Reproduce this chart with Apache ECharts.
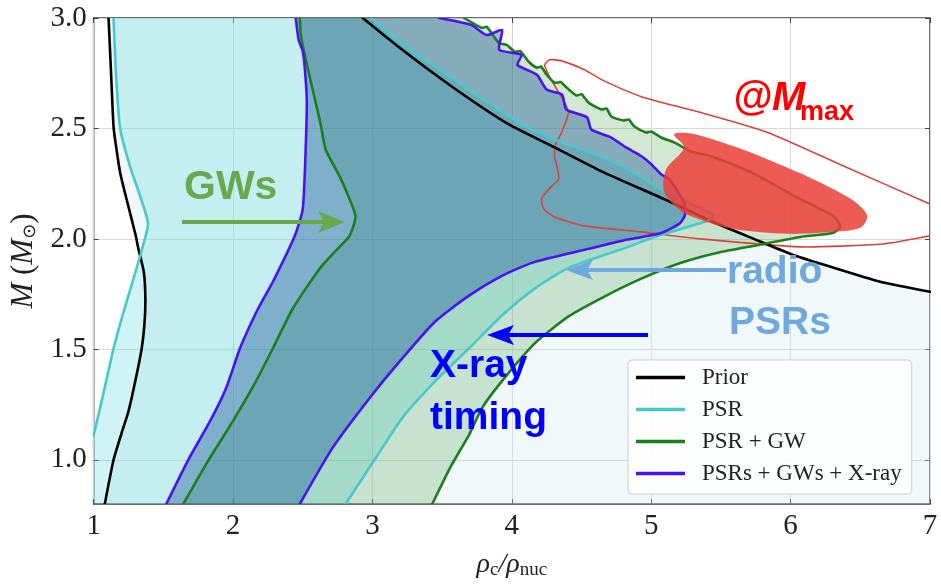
<!DOCTYPE html>
<html>
<head>
<meta charset="utf-8">
<script src="https://cdn.jsdelivr.net/npm/echarts@6/dist/echarts.min.js"></script>
<style>
html, body { margin: 0; padding: 0; background: #fff; }
#chart { width: 941px; height: 585px; }
</style>
</head>
<body>
<div id="chart"></div>
<script>
// contour boundaries, in (rho_c/rho_nuc, M) units
const xTicks = [1, 2, 3, 4, 5, 6, 7]
const yTicks = [1.0, 1.5, 2.0, 2.5, 3.0]

// Prior: left edge and the upper-right edge
const priorLeft = [[1.08, 0.8], [1.143, 1.0], [1.2, 1.12], [1.25, 1.22], [1.3, 1.36], [1.345, 1.505], [1.365, 1.62], [1.371, 1.73], [1.36, 1.85], [1.321, 1.955], [1.3, 2.02], [1.236, 2.18], [1.19, 2.3], [1.164, 2.405], [1.143, 2.505], [1.125, 2.75], [1.107, 3.0]]
const priorTop = [[2.93, 3.0], [3.214, 2.856], [3.571, 2.689], [3.979, 2.518], [4.307, 2.414], [4.643, 2.306], [5.093, 2.18], [5.429, 2.081], [5.736, 2.0], [6.0, 1.932], [6.264, 1.878], [6.643, 1.806], [7.0, 1.761]]

// PSR
const psrLeft = [[1.0, 1.11], [1.07, 1.3], [1.143, 1.505], [1.21, 1.66], [1.286, 1.82], [1.35, 1.96], [1.39, 2.07], [1.33, 2.2], [1.26, 2.33], [1.19, 2.5], [1.16, 2.75], [1.143, 3.0]]
const psrUpper = [[2.986, 3.0], [3.214, 2.883], [3.607, 2.712], [4.071, 2.518], [4.357, 2.437], [4.621, 2.378], [4.857, 2.306], [5.071, 2.225], [5.286, 2.158], [5.393, 2.126], [5.45, 2.108]]
const psrLower = [[5.42, 2.086], [5.357, 2.072], [5.021, 2.009], [4.836, 1.964], [4.407, 1.869], [4.164, 1.775], [3.929, 1.653], [3.693, 1.505], [3.45, 1.356], [3.214, 1.19], [3.071, 1.054], [2.807, 0.8]]

// PSR + GW
const gwLeft = [[1.643, 0.8], [1.821, 0.995], [2.0, 1.176], [2.157, 1.347], [2.286, 1.505], [2.429, 1.685], [2.621, 1.865], [2.75, 1.955], [2.836, 2.014], [2.879, 2.1], [2.836, 2.18], [2.764, 2.284], [2.664, 2.405], [2.629, 2.518], [2.571, 2.676], [2.514, 2.833], [2.486, 2.923], [2.479, 3.0]]
const gwUpper = [[3.657, 3.0], [3.786, 2.955], [3.82, 2.96], [3.907, 2.887], [3.964, 2.878], [4.021, 2.847], [4.06, 2.85], [4.121, 2.802], [4.179, 2.775], [4.21, 2.78], [4.25, 2.743], [4.307, 2.707], [4.35, 2.71], [4.393, 2.685], [4.464, 2.649], [4.5, 2.655], [4.55, 2.617], [4.643, 2.586], [4.68, 2.59], [4.714, 2.554], [4.8, 2.536], [4.84, 2.54], [4.879, 2.509], [4.964, 2.482], [5.0, 2.486], [5.071, 2.459], [5.164, 2.437], [5.286, 2.396], [5.429, 2.374], [5.714, 2.302], [6.071, 2.18], [6.307, 2.104], [6.357, 2.054]]
const gwLower = [[6.3, 2.027], [6.071, 2.009], [5.807, 1.977], [5.5, 1.941], [5.214, 1.892], [4.929, 1.82], [4.664, 1.739], [4.407, 1.649], [4.164, 1.527], [3.929, 1.356], [3.786, 1.234], [3.693, 1.113], [3.557, 0.964], [3.429, 0.8]]

// PSRs + GWs + X-ray
const xrLeft = [[1.521, 0.8], [1.679, 1.0], [1.836, 1.176], [1.95, 1.324], [2.05, 1.505], [2.18, 1.685], [2.286, 1.806], [2.443, 2.014], [2.5, 2.135], [2.521, 2.405], [2.529, 2.631], [2.514, 2.779], [2.5, 2.85], [2.471, 2.9], [2.45, 3.0]]
const xrUpper = [[3.48, 3.0], [3.71, 2.968], [3.82, 2.923], [3.93, 2.946], [3.91, 2.856], [4.07, 2.833], [4.04, 2.788], [4.18, 2.743], [4.25, 2.676], [4.36, 2.653], [4.39, 2.586], [4.54, 2.55], [4.57, 2.495], [4.71, 2.46], [4.82, 2.414], [4.93, 2.374], [5.0, 2.338], [5.07, 2.293], [5.13, 2.27], [5.18, 2.225], [5.24, 2.158], [5.24, 2.104], [5.2, 2.068]]
const xrLower = [[5.071, 2.027], [4.786, 1.991], [4.55, 1.955], [4.164, 1.896], [3.929, 1.833], [3.693, 1.743], [3.45, 1.626], [3.214, 1.459], [2.979, 1.279], [2.714, 1.054], [2.479, 0.8]]

// M_max: outer contour (runs off the right edge) and filled core
const mmaxOuter = [[7.0, 2.158], [6.4, 2.324], [5.836, 2.482], [5.357, 2.572], [4.929, 2.644], [4.643, 2.721], [4.521, 2.766], [4.357, 2.806], [4.271, 2.811], [4.236, 2.788], [4.271, 2.734], [4.379, 2.617], [4.407, 2.572], [4.357, 2.482], [4.314, 2.428], [4.307, 2.374], [4.329, 2.315], [4.336, 2.27], [4.264, 2.225], [4.214, 2.18], [4.229, 2.135], [4.307, 2.099], [4.521, 2.059], [4.929, 2.032], [5.357, 2.0], [6.071, 1.964], [6.664, 1.977], [7.0, 2.014]]
const mmaxCore = [[5.164, 2.473], [5.286, 2.477], [5.593, 2.419], [5.836, 2.36], [6.071, 2.297], [6.307, 2.225], [6.464, 2.167], [6.55, 2.104], [6.5, 2.05], [6.307, 2.032], [5.979, 2.023], [5.593, 2.045], [5.357, 2.086], [5.214, 2.126], [5.093, 2.212], [5.107, 2.315], [5.236, 2.414]]

const X_MIN = 1, X_MAX = 7, Y_MIN = 0.8, Y_MAX = 3.0

const SERIF = '"Liberation Serif", "DejaVu Serif", serif'
const SANS = '"Liberation Sans", Arial, sans-serif'

function toPixels(api, pts) {
    return pts.map(function (p) { return api.coord(p) })
}

function fillSeries(pts, color) {
    return {
        type: 'custom',
        coordinateSystem: 'cartesian2d',
        clip: true,
        silent: true,
        data: [[X_MIN, Y_MIN]],
        renderItem: function (params, api) {
            return { type: 'polygon', shape: { points: toPixels(api, pts) }, style: { fill: color } }
        }
    }
}

function outlineSeries(name, parts, color, width) {
    return {
        name: name,
        type: 'custom',
        coordinateSystem: 'cartesian2d',
        clip: true,
        silent: true,
        itemStyle: { color: color },
        data: [[X_MIN, Y_MIN]],
        renderItem: function (params, api) {
            return {
                type: 'group',
                children: parts.map(function (pts) {
                    return {
                        type: 'polyline',
                        shape: { points: toPixels(api, pts), smooth: 0.2 },
                        style: { stroke: color, lineWidth: width, fill: null, lineJoin: 'round', lineCap: 'round' }
                    }
                })
            }
        }
    }
}

const priorPoly = priorLeft.concat(priorTop, [[X_MAX, Y_MIN]])
const psrPoly = [[X_MIN, Y_MIN]].concat(psrLeft, psrUpper, psrLower)
const gwPoly = gwLeft.concat(gwUpper, gwLower)
const xrPoly = xrLeft.concat(xrUpper, xrLower)

const C_PRIOR = '#000000'
const C_PSR = '#48c8cb'
const C_GW = '#1b7f1b'
const C_XR = '#4a12ee'

// annotation arrows, drawn on top of everything
function hArrow(xTail, xTip, y, color, w, headLen, headHalf) {
    const dir = xTip > xTail ? 1 : -1
    const base = xTip - dir * headLen
    return [
        { type: 'line', z: 100, shape: { x1: xTail, y1: y, x2: base + dir * 4, y2: y }, style: { stroke: color, lineWidth: w } },
        {
            type: 'polygon', z: 100,
            shape: { points: [[xTip, y], [base - dir * 3, y - headHalf], [base + dir * 3, y], [base - dir * 3, y + headHalf]] },
            style: { fill: color }
        }
    ]
}

function label(text, x, y, size, color, extra) {
    return {
        type: 'text', x: x, y: y, z: 100,
        style: Object.assign({
            text: text, fill: color, font: 'bold ' + size + 'px ' + SANS,
            align: 'left', verticalAlign: 'middle'
        }, extra || {})
    }
}

const tickStyle = { inside: true, length: 5, lineStyle: { color: '#444', width: 1 } }

var dom = document.getElementById('chart')
var myChart = echarts.init(dom, null, { renderer: 'canvas' })

var option = {
    animation: false,
    backgroundColor: '#fff',
    grid: { left: 90, right: 11, top: 18, bottom: 80, show: true, borderColor: '#3c3c3c', borderWidth: 1.5, backgroundColor: 'transparent' },
    legend: {
        data: ['Prior', 'PSR', 'PSR + GW', 'PSRs + GWs + X-ray'],
        orient: 'vertical',
        left: 628,
        top: 360,
        icon: 'rect',
        itemWidth: 49,
        itemHeight: 3.5,
        itemGap: 9,
        padding: [6, 10, 9, 8],
        backgroundColor: 'rgba(255,255,255,0.85)',
        borderColor: '#cfcfcf',
        borderWidth: 1,
        borderRadius: 4,
        selectedMode: false,
        textStyle: { fontFamily: SERIF, fontSize: 23, color: '#222', padding: [0, 0, 0, 12] }
    },
    xAxis: [{
        type: 'value', min: X_MIN, max: X_MAX, interval: 1,
        axisLine: { show: false },
        axisTick: tickStyle,
        axisLabel: { fontFamily: SERIF, fontSize: 29, color: '#222', margin: 8 },
        splitLine: { lineStyle: { color: '#d9d9d9' } },
        name: '{r|ρ}{s|c}{r|/ρ}{s|nuc}',
        nameLocation: 'middle',
        nameGap: 46,
        nameTextStyle: {
            rich: {
                r: { fontFamily: SERIF, fontStyle: 'italic', fontSize: 28, lineHeight: 30, color: '#222' },
                s: { fontFamily: SERIF, fontSize: 19, lineHeight: 14, verticalAlign: 'bottom', color: '#222' }
            }
        }
    }, {
        type: 'value', position: 'top', min: X_MIN, max: X_MAX, interval: 1,
        axisLine: { show: false }, axisTick: tickStyle, axisLabel: { show: false }, splitLine: { show: false }
    }],
    yAxis: [{
        type: 'value', min: Y_MIN, max: Y_MAX,
        axisLine: { show: false },
        axisTick: Object.assign({ customValues: yTicks }, tickStyle),
        axisLabel: { customValues: yTicks, fontFamily: SERIF, fontSize: 29, color: '#222', margin: 7, formatter: function (v) { return v.toFixed(1) } },
        splitLine: { lineStyle: { color: '#d9d9d9' } },
        name: '{i|M} ({i|M}{s|⊙})',
        nameLocation: 'middle',
        nameRotate: 90,
        nameGap: 50,
        nameTextStyle: {
            fontFamily: SERIF, fontSize: 31, color: '#222',
            rich: {
                i: { fontFamily: SERIF, fontStyle: 'italic', fontSize: 31, lineHeight: 32, color: '#222' },
                s: { fontFamily: 'DejaVu Sans', fontSize: 18, lineHeight: 14, verticalAlign: 'bottom', color: '#222' }
            }
        }
    }, {
        type: 'value', position: 'right', min: Y_MIN, max: Y_MAX,
        axisLine: { show: false },
        axisTick: Object.assign({ customValues: yTicks }, tickStyle),
        axisLabel: { show: false, customValues: yTicks },
        splitLine: { show: false }
    }],
    series: [
        fillSeries(priorPoly, 'rgba(205,232,236,0.3)'),
        fillSeries(psrPoly, 'rgba(72,210,215,0.26)'),
        fillSeries(gwPoly, 'rgba(34,139,34,0.2)'),
        fillSeries(xrPoly, 'rgba(40,100,160,0.45)'),
        {
            type: 'custom', coordinateSystem: 'cartesian2d', clip: true, silent: true,
            data: [[X_MIN, Y_MIN]],
            renderItem: function (params, api) {
                return { type: 'polyline', shape: { points: toPixels(api, mmaxOuter), smooth: 0.2 }, style: { stroke: '#d8443a', lineWidth: 1.6, fill: null } }
            }
        },
        outlineSeries('Prior', [priorLeft, priorTop], C_PRIOR, 2.6),
        outlineSeries('PSR', [psrLeft, psrUpper.concat(psrLower)], C_PSR, 2.6),
        outlineSeries('PSR + GW', [gwLeft, gwUpper.concat(gwLower)], C_GW, 2.6),
        outlineSeries('PSRs + GWs + X-ray', [xrLeft, xrUpper.concat(xrLower)], C_XR, 2.6),
        {
            type: 'custom', coordinateSystem: 'cartesian2d', clip: true, silent: true,
            data: [[X_MIN, Y_MIN]],
            renderItem: function (params, api) {
                return { type: 'polygon', shape: { points: toPixels(api, mmaxCore), smooth: 0.3 }, style: { fill: 'rgba(235,62,55,0.85)' } }
            }
        }
    ],
    graphic: [].concat(
        hArrow(182, 345, 222, '#6aa84f', 4, 24, 11),
        hArrow(726, 566, 270, '#6fa8dc', 4, 24, 10),
        hArrow(648, 487, 335, '#0000ff', 4, 24, 10),
        [
            label('GWs', 184, 188, 41, '#6aa84f'),
            label('radio', 727, 272, 39, '#6fa8dc'),
            label('PSRs', 729, 323, 39, '#6fa8dc'),
            label('X-ray', 430, 366, 39, '#0000ff'),
            label('timing', 430, 418, 39, '#0000ff'),
            label('@M', 733, 99, 40, '#ff0000', { font: 'italic bold 40px ' + SANS }),
            label('max', 800, 113, 27, '#ff0000')
        ]
    )
}

option && myChart.setOption(option)

window.addEventListener('resize', myChart.resize)
</script>
</body>
</html>
